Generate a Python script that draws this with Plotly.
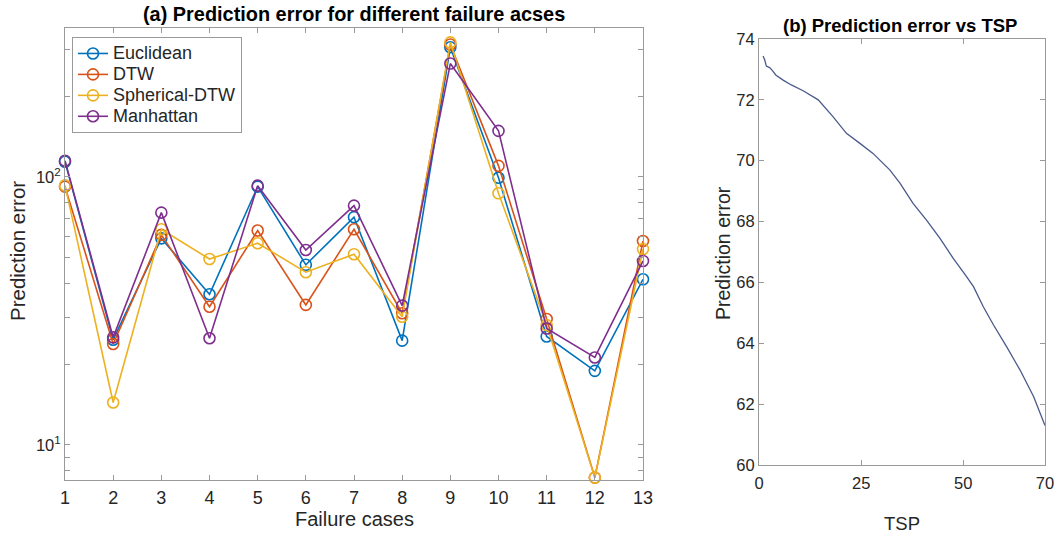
import plotly.graph_objects as go

cases = list(range(1, 14))
euclidean = [114, 24.7, 59, 36.5, 92, 47.0, 70.8, 24.5, 305, 99.3, 25.4, 18.9, 41.5]
dtw = [92, 23.8, 60.8, 32.8, 63.1, 33.3, 63.8, 31.0, 312, 110, 29.5, 7.55, 57.7]
spherical_dtw = [93, 14.4, 63.8, 49.4, 56.6, 44.1, 51.5, 30.1, 318, 86.9, 28.0, 7.55, 53.8]
manhattan = [115, 25.2, 73.6, 25.0, 92.8, 53.4, 78.2, 33.1, 265, 148.6, 27.2, 21.2, 48.6]

series_names = ["Euclidean", "DTW", "Spherical-DTW", "Manhattan"]
series_vals = [euclidean, dtw, spherical_dtw, manhattan]
colors = ["#0072BD", "#D95319", "#EDB120", "#7E2F8E"]

tsp = [1, 1.4, 1.8, 2.6, 3.3, 4.1, 5.9, 7.9, 10.8, 12.4, 14.5, 18.1, 21.4, 24.7, 27.9,
       32.0, 34.5, 37.7, 41.0, 44.3, 47.5, 50.8, 52.5, 54.9, 57.4, 60.6, 63.9, 67.2, 70]
tsp_err = [73.44, 73.31, 73.11, 73.06, 72.96, 72.82, 72.65, 72.49, 72.30, 72.16, 72.0,
           71.45, 70.9, 70.57, 70.24, 69.7, 69.26, 68.6, 68.05, 67.45, 66.8, 66.19, 65.86,
           65.2, 64.6, 63.89, 63.12, 62.25, 61.3]

log_major_vals = [10, 100]
log_major_text = ["10<sup>1</sup>", "10<sup>2</sup>"]
log_minor_vals = [8, 9, 20, 30, 40, 50, 60, 70, 80, 90, 200, 300]

FONT = "Liberation Sans, Arial, Helvetica, sans-serif"
TXT = "#262626"
AX = "#9a9a9a"

fig = go.Figure()
for name, vals, c in zip(series_names, series_vals, colors):
    fig.add_trace(go.Scatter(
        x=cases, y=vals, name='<span style="font-size:18px">' + name + '</span>',
        mode="lines+markers",
        line=dict(color=c, width=1.6),
        marker=dict(symbol="circle-open", size=11, color=c, line=dict(width=1.6, color=c)),
        cliponaxis=False, xaxis="x", yaxis="y"))

fig.add_trace(go.Scatter(
    x=tsp, y=tsp_err, mode="lines", showlegend=False,
    line=dict(color="#4a5a8a", width=1.3), xaxis="x2", yaxis="y2"))

axis_common = dict(showline=True, linecolor=AX, linewidth=1, mirror="ticks",
                   ticks="inside", tickcolor=AX, ticklen=5, showgrid=False, zeroline=False,
                   automargin=False)

fig.update_layout(
    width=1059, height=536,
    margin=dict(l=0, r=0, t=0, b=0, autoexpand=False),
    paper_bgcolor="white", plot_bgcolor="white",
    font=dict(family=FONT, color=TXT),
    xaxis=dict(domain=[65/1059, 643/1059], range=[1, 13], tickvals=cases,
               ticklabelstandoff=1, tickfont=dict(family=FONT, size=18, color=TXT), **axis_common),
    yaxis=dict(domain=[56/536, 508/536], type="log", range=[0.869, 2.556],
               tickvals=log_major_vals, ticktext=log_major_text,
               minor=dict(tickvals=log_minor_vals, ticks="inside", ticklen=5,
                          tickcolor=AX, showgrid=False),
               tickfont=dict(family=FONT, size=16.5, color=TXT), **axis_common),
    xaxis2=dict(domain=[759/1059, 1045/1059], range=[0, 70], tickvals=[0, 25, 50, 70],
                anchor="y2", ticklabelstandoff=3,
                tickfont=dict(family=FONT, size=16.5, color=TXT), **axis_common),
    yaxis2=dict(domain=[71/536, 497/536], range=[60, 74], tickvals=list(range(60, 75, 2)),
                anchor="x2", tickfont=dict(family=FONT, size=16.5, color=TXT), **axis_common),
    legend=dict(x=72/1059, y=1-37/536, xanchor="left", yanchor="top",
                bgcolor="white", bordercolor=AX, borderwidth=1,
                font=dict(family=FONT, size=13.8, color=TXT), itemwidth=30,
                tracegroupgap=0),
    annotations=[
        dict(text="<b>(a) Prediction error for different failure acses</b>", x=354/1059, y=1-14/536,
             xref="paper", yref="paper", showarrow=False, xanchor="center", yanchor="middle",
             font=dict(family=FONT, size=19.9, color="#000000")),
        dict(text="<b>(b) Prediction error vs TSP</b>", x=900/1059, y=1-26/536,
             xref="paper", yref="paper", showarrow=False, xanchor="center", yanchor="middle",
             font=dict(family=FONT, size=18.5, color="#000000")),
        dict(text="Prediction error", x=17/1059, y=1-251/536, textangle=-90,
             xref="paper", yref="paper", showarrow=False, xanchor="center", yanchor="middle",
             font=dict(family=FONT, size=20.5, color=TXT)),
        dict(text="Failure cases", x=354/1059, y=1-519/536,
             xref="paper", yref="paper", showarrow=False, xanchor="center", yanchor="middle",
             font=dict(family=FONT, size=20, color=TXT)),
        dict(text="Prediction error", x=723/1059, y=1-253/536, textangle=-90,
             xref="paper", yref="paper", showarrow=False, xanchor="center", yanchor="middle",
             font=dict(family=FONT, size=19.5, color=TXT)),
        dict(text="TSP", x=902/1059, y=1-523/536,
             xref="paper", yref="paper", showarrow=False, xanchor="center", yanchor="middle",
             font=dict(family=FONT, size=18.5, color=TXT)),
    ],
)

fig.write_html("out.html", post_script="document.body.style.margin='0';document.body.style.overflow='hidden';")
